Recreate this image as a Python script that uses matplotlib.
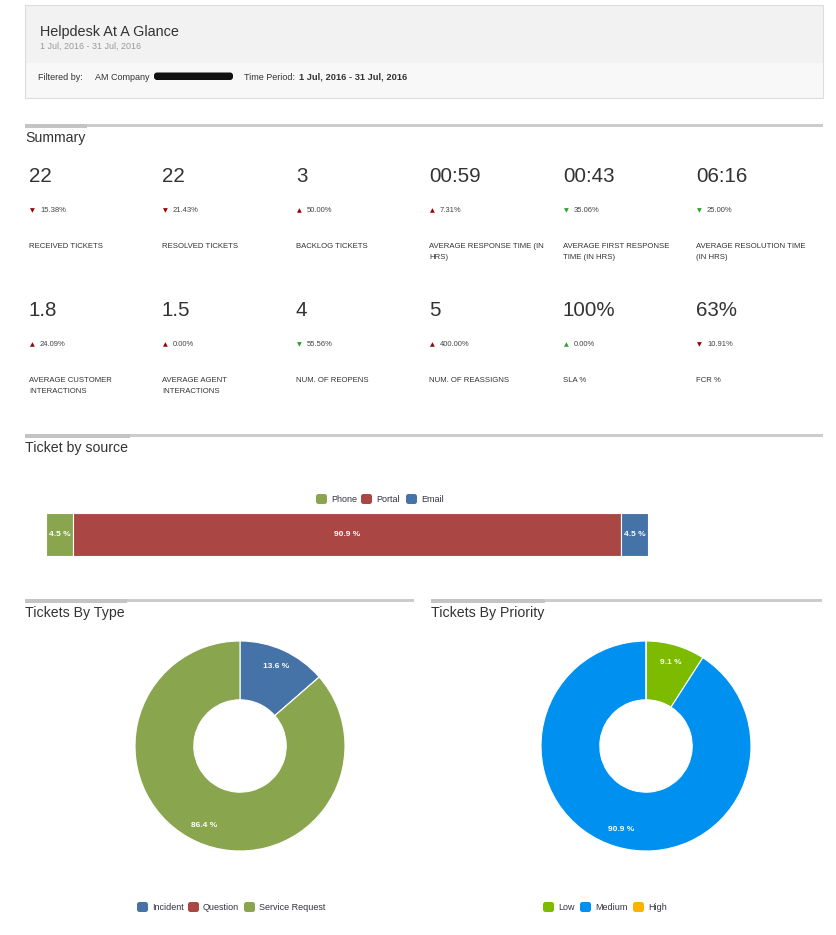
"""Helpdesk At A Glance dashboard recreation."""

import matplotlib
matplotlib.use("Agg")
import matplotlib.pyplot as plt
from matplotlib.patches import Rectangle, FancyBboxPatch

W, H = 837, 935
FONT = ["Liberation Sans", "DejaVu Sans"]
plt.rcParams["font.family"] = FONT

# ---- data ----
report_title = "Helpdesk At A Glance"
report_period = "1 Jul, 2016 - 31 Jul, 2016"
company = "AM Company"

kpi_values = ["22", "22", "3", "00:59", "00:43", "06:16",
              "1.8", "1.5", "4", "5", "100%", "63%"]
kpi_changes = ["15.38%", "21.43%", "50.00%", "7.31%", "35.06%", "25.00%",
               "24.09%", "0.00%", "55.56%", "400.00%", "0.00%", "10.91%"]
kpi_up = [False, False, True, True, False, False,
          True, True, False, True, True, False]
kpi_good = [False, False, False, False, True, True,
            False, False, True, False, True, False]
kpi_labels = ["RECEIVED TICKETS", "RESOLVED TICKETS", "BACKLOG TICKETS",
              "AVERAGE RESPONSE TIME (IN\nHRS)", "AVERAGE FIRST RESPONSE\nTIME (IN HRS)",
              "AVERAGE RESOLUTION TIME\n(IN HRS)",
              "AVERAGE CUSTOMER\nINTERACTIONS", "AVERAGE AGENT\nINTERACTIONS",
              "NUM. OF REOPENS", "NUM. OF REASSIGNS", "SLA %", "FCR %"]

source_names = ["Phone", "Portal", "Email"]
source_pct = [4.5, 90.9, 4.5]
source_colors = ["#89a54e", "#aa4643", "#4572a7"]

type_names = ["Incident", "Question", "Service Request"]
type_pct = [13.6, 0.0, 86.4]
type_colors = ["#4572a7", "#aa4643", "#89a54e"]

priority_names = ["Low", "Medium", "High"]
priority_pct = [9.1, 90.9, 0.0]
priority_colors = ["#7cbb00", "#0091f0", "#ffb300"]


def frac(x0, y0, x1, y1):
    return [x0 / W, 1 - y1 / H, (x1 - x0) / W, (y1 - y0) / H]


fig = plt.figure(figsize=(W / 100, H / 100), dpi=100)
ax = fig.add_axes([0, 0, 1, 1])
ax.set_xlim(0, W)
ax.set_ylim(H, 0)
ax.axis("off")

# ---- header box ----
ax.add_patch(Rectangle((25, 5), 798, 58, facecolor="#f2f2f2", edgecolor="none"))
ax.add_patch(Rectangle((25, 63), 798, 35, facecolor="#f8f8f8", edgecolor="none"))
ax.add_patch(Rectangle((25, 5), 798, 93, facecolor="none", edgecolor="#dcdcdc", lw=0.8))
ax.text(40, 32, report_title, fontsize=10.4, color="#333333", va="center")
ax.text(40, 46, report_period, fontsize=6.4, color="#9a9a9a", va="center")
ax.text(38, 77, "Filtered by:", fontsize=6.5, color="#333333", va="center")
ax.text(95, 77, company, fontsize=6.5, color="#333333", va="center")
ax.add_patch(FancyBboxPatch((155, 73.5), 77, 5.5, boxstyle="round,pad=1,rounding_size=3",
                            facecolor="#111111", edgecolor="none"))
ax.text(244, 77, "Time Period:", fontsize=6.5, color="#333333", va="center")
ax.text(299, 77, report_period, fontsize=6.7, color="#333333", va="center",
        fontweight="bold")


def section(x0, x1, xt, y, title):
    ax.add_patch(Rectangle((x0, y), x1 - x0, 2.5, facecolor="#cccccc", edgecolor="none"))
    ax.add_patch(Rectangle((x0, y), xt - x0, 4, facecolor="#c4c4c4", edgecolor="none"))
    ax.text(x0, y + 14, title, fontsize=10.2, color="#333333", va="center")


section(25, 823, 87, 124, "Summary")
section(25, 823, 130, 434, "Ticket by source")
section(25, 414, 127, 599, "Tickets By Type")
section(431, 822, 545, 599, "Tickets By Priority")

# ---- KPI grid ----
col_x = [29, 162, 296, 429, 563, 696]
row_y = [177, 311]
for i, val in enumerate(kpi_values):
    x = col_x[i % 6]
    y = row_y[i // 6]
    ax.text(x, y, val, fontsize=14.8, color="#333333", va="center")
    color = "#2e9e2e" if kpi_good[i] else "#990000"
    ax.text(x + 1, y + 34, "\u25b2" if kpi_up[i] else "\u25bc", fontsize=4.5,
            color=color, va="center", family="DejaVu Sans")
    ax.text(x + 11, y + 34, kpi_changes[i], fontsize=5.5, color="#444444", va="center")
    ax.text(x, y + 66, kpi_labels[i], fontsize=5.6, color="#333333", va="top",
            linespacing=1.75, multialignment="left")


def legend_row(names, colors, xs, y):
    for name, color, x in zip(names, colors, xs):
        ax.add_patch(FancyBboxPatch((x + 1, y - 4), 9, 8,
                                    boxstyle="round,pad=1,rounding_size=2.5",
                                    facecolor=color, edgecolor="none"))
        ax.text(x + 15, y, name, fontsize=6.5, color="#333344", va="center")


# ---- ticket by source ----
legend_row(source_names, source_colors, [316, 361, 406], 499)
bax = fig.add_axes(frac(46, 513, 648, 556))
left = 0.0
for name, pct, color in zip(source_names, source_pct, source_colors):
    bax.barh(0, pct, left=left, height=1, color=color, edgecolor="white", lw=0.8)
    bax.text(left + pct / 2, 0, f"{pct} %", ha="center", va="center",
             fontsize=6, color="white", fontweight="bold")
    left += pct
bax.set_xlim(0, left)
bax.set_ylim(-0.5, 0.5)
bax.axis("off")


# ---- donuts ----
def donut(box, values, colors):
    pax = fig.add_axes(frac(*box))
    wedges, texts, autotexts = pax.pie(
        values, colors=colors, startangle=90, counterclock=False, radius=1,
        wedgeprops=dict(width=0.56, edgecolor="white", linewidth=0.8),
        autopct=lambda p: f"{p:.1f} %" if p > 0 else "", pctdistance=0.83)
    for t in autotexts:
        t.set_color("white")
        t.set_fontsize(6)
        t.set_fontweight("bold")
    pax.set_xlim(-1, 1)
    pax.set_ylim(-1, 1)
    pax.set_aspect("equal")
    pax.axis("off")


donut((135, 641, 345, 851), type_pct, type_colors)
donut((541, 641, 751, 851), priority_pct, priority_colors)

legend_row(type_names, type_colors, [137, 188, 244], 907)
legend_row(priority_names, priority_colors, [543, 580, 633], 907)

fig.savefig("out.png", dpi=100, facecolor="white")
plt.close(fig)
